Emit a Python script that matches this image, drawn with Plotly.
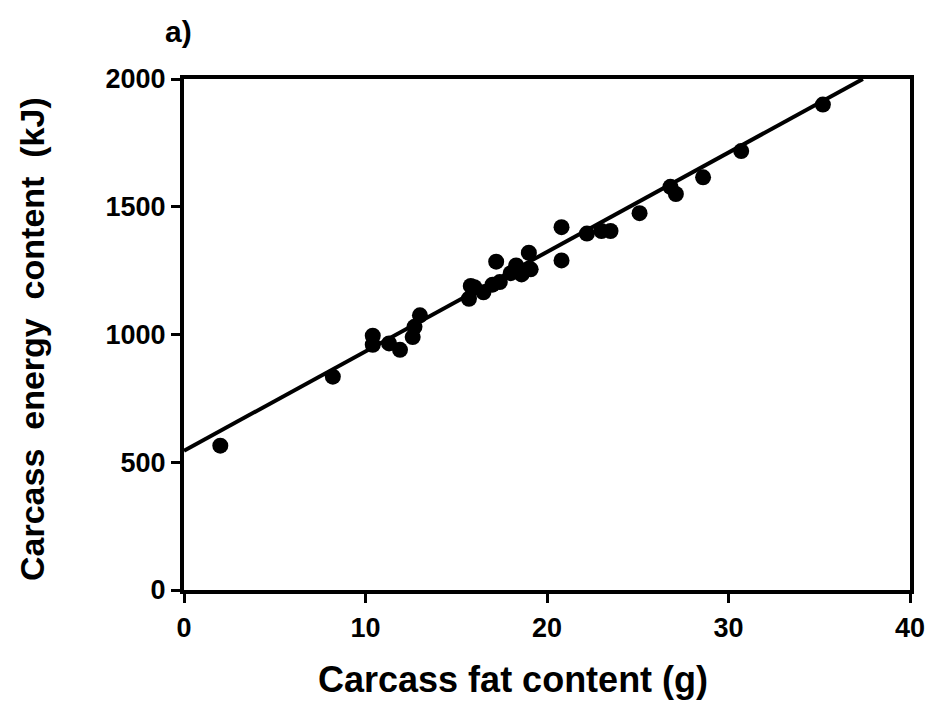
import plotly.graph_objects as go

fat_g = [2.0, 8.2, 10.4, 10.4, 11.3, 11.9, 12.6, 12.7, 13.0,
         15.7, 15.8, 16.0, 16.5, 17.0, 17.2, 17.4, 18.0, 18.3, 18.6, 19.0, 19.1,
         20.8, 20.8, 22.2, 23.0, 23.5, 25.1, 26.8, 27.1, 28.6, 30.7, 35.2]
energy_kj = [565, 835, 995, 960, 965, 940, 990, 1030, 1075,
             1140, 1190, 1185, 1165, 1195, 1285, 1205, 1240, 1270, 1235, 1320, 1255,
             1420, 1290, 1395, 1405, 1405, 1475, 1578, 1550, 1615, 1718, 1900]

fit_intercept = 545
fit_slope = 38.9
fit_x = [0, (2000 - fit_intercept) / fit_slope]
fit_y = [fit_intercept + fit_slope * v for v in fit_x]

x_ticks = [0, 10, 20, 30, 40]
y_ticks = [0, 500, 1000, 1500, 2000]

x_title = "Carcass fat content (g)"
y_title = "Carcass energy content (kJ)"

font_family = "Liberation Sans, Arial, sans-serif"

fig = go.Figure()
fig.add_trace(go.Scatter(x=fit_x, y=fit_y, mode="lines",
                         line=dict(color="black", width=4), hoverinfo="skip"))
fig.add_trace(go.Scatter(x=fat_g, y=energy_kj, mode="markers",
                         marker=dict(color="black", size=16, line=dict(width=0))))

L, R, T, B = 184, 24, 79, 115
plot_w = 934 - L - R
plot_h = 705 - T - B


def px(xp):
    return (xp - L) / plot_w


def py(yp):
    return (705 - B - yp) / plot_h


fig.update_layout(
    width=934, height=705,
    margin=dict(l=L, r=R, t=T, b=B, autoexpand=False),
    paper_bgcolor="white", plot_bgcolor="white",
    showlegend=False,
    font=dict(family=font_family, color="black"),
    xaxis=dict(range=[0, 40], tickvals=x_ticks, ticktext=[f"<b>{v}</b>" for v in x_ticks],
               showgrid=False, zeroline=False, showline=True, linecolor="black",
               linewidth=4, mirror=True, ticks="outside", ticklen=9, tickwidth=3,
               tickcolor="black", tickfont=dict(size=27, family=font_family),
               ticklabelstandoff=2, automargin=False),
    yaxis=dict(range=[0, 2000], tickvals=y_ticks, ticktext=[f"<b>{v}</b>" for v in y_ticks],
               showgrid=False, zeroline=False, showline=True, linecolor="black",
               linewidth=4, mirror=True, ticks="outside", ticklen=9, tickwidth=3,
               tickcolor="black", tickfont=dict(size=27, family=font_family),
               automargin=False),
    annotations=[
        dict(text="<b>a)</b>", x=px(178), y=py(31),
             xref="paper", yref="paper", xanchor="center", yanchor="middle",
             showarrow=False, font=dict(size=30)),
        dict(text=f"<b>{x_title}</b>", x=px(513), y=py(680),
             xref="paper", yref="paper", xanchor="center", yanchor="middle",
             showarrow=False, font=dict(size=36)),
        dict(text="<b>" + y_title.replace(" ", "\u00a0 ") + "</b>", x=px(32), y=py(339),
             xref="paper", yref="paper", xanchor="center", yanchor="middle",
             textangle=-90, showarrow=False, font=dict(size=34)),
    ],
)
fig.write_html("out.html")
